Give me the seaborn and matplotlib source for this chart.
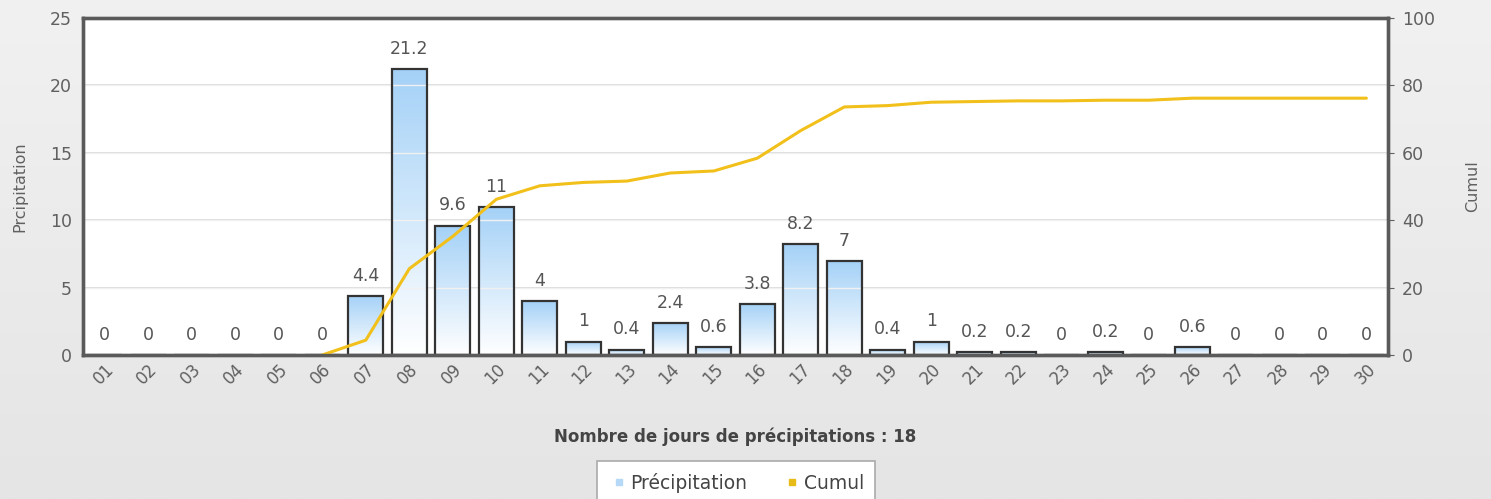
import numpy as np
import pandas as pd
import matplotlib
matplotlib.use("Agg")
import matplotlib.pyplot as plt
import seaborn as sns
from matplotlib.colors import LinearSegmentedColormap
from matplotlib.lines import Line2D

# Data
days = [f"{d:02d}" for d in range(1, 31)]
precip = [0, 0, 0, 0, 0, 0, 4.4, 21.2, 9.6, 11, 4, 1, 0.4, 2.4, 0.6, 3.8,
          8.2, 7, 0.4, 1, 0.2, 0.2, 0, 0.2, 0, 0.6, 0, 0, 0, 0]
cumul = [0, 0, 0, 0, 0, 0, 4.4, 25.6, 35.2, 46.2, 50.2, 51.2, 51.6, 54, 54.6, 58.4,
         66.6, 73.6, 74, 75, 75.2, 75.4, 75.4, 75.6, 75.6, 76.2, 76.2, 76.2, 76.2, 76.2]
rain_days = 18

df = pd.DataFrame({"jour": days, "precip": precip, "cumul": cumul})

sns.set_style("white")
plt.rcParams["font.family"] = ["DejaVu Sans"]
text_col = "#606060"

fig = plt.figure(figsize=(14.91, 4.99), dpi=100)

# grey gradient background
bg = fig.add_axes([0, 0, 1, 1], zorder=-10)
grad = np.linspace(0, 1, 256).reshape(-1, 1)
bg_cmap = LinearSegmentedColormap.from_list("bg", ["#f1f1f1", "#e5e5e5"])
bg.imshow(grad, aspect="auto", cmap=bg_cmap, extent=[0, 1, 0, 1])
bg.axis("off")

ax = fig.add_axes([0.0557, 0.2886, 0.8753, 0.6754])
ax.set_facecolor("white")

# alternating bands + grid
for lo in [5, 15]:
    ax.axhspan(lo, lo + 5, color="#f1f1f1", zorder=0.2)
for y in [5, 10, 15, 20]:
    ax.axhline(y, color="#d6d6d6", lw=1.2, zorder=0.5)

sns.barplot(data=df, x="jour", y="precip", ax=ax, width=0.8,
            color="#b5d9f7", edgecolor="#333333", linewidth=1.6, zorder=2)

# gradient fill inside the bars
bar_cmap = LinearSegmentedColormap.from_list("bar", ["#ffffff", "#a4d1f7"])
for p in ax.patches:
    h = p.get_height()
    if h <= 0:
        continue
    x0 = p.get_x()
    w = p.get_width()
    im = ax.imshow(grad, aspect="auto", cmap=bar_cmap, origin="lower",
                   extent=[x0, x0 + w, 0, h], zorder=2.1)
    im.set_clip_path(p)
    p.set_facecolor("none")
    p.set_zorder(2.2)

labels = [f"{v:g}" for v in precip]
ax.bar_label(ax.containers[0], labels=labels, padding=8, fontsize=12.5, color="#555555")

ax.set_xlim(-0.5, 29.5)
ax.set_ylim(0, 25)
ax.set_yticks([0, 5, 10, 15, 20, 25])
ax.set_xlabel("")
ax.set_ylabel("Prcipitation", color=text_col, fontsize=11.5, labelpad=16)
ax.tick_params(axis="y", colors=text_col, labelsize=12.5, length=0, pad=8)
ax.tick_params(axis="x", colors=text_col, labelsize=12, length=0, pad=4)
for lab in ax.get_xticklabels():
    lab.set_rotation(45)
    lab.set_ha("right")
    lab.set_rotation_mode("anchor")

# cumulative line on right axis
ax2 = ax.twinx()
line_df = df.iloc[5:]
sns.lineplot(x=line_df.index, y=line_df["cumul"], ax=ax2, color="#f2c01a", linewidth=2.2)
ax2.set_ylim(0, 100)
ax2.set_yticks([0, 20, 40, 60, 80, 100])
ax2.set_ylabel("Cumul", color=text_col, fontsize=11.5, labelpad=22)
ax2.tick_params(axis="y", colors=text_col, labelsize=12.5, length=4, pad=6)
ax.set_xlim(-0.5, 29.5)

for a in (ax, ax2):
    for s in a.spines.values():
        s.set_color("#5a5a5a")
        s.set_linewidth(2.4)

fig.text(0.493, 0.124, f"Nombre de jours de précipitations : {rain_days}",
         ha="center", va="center", fontsize=12, fontweight="bold", color="#444444")

handles = [
    Line2D([], [], marker="s", ls="none", color="#b5d9f7", markersize=5, label="Précipitation"),
    Line2D([], [], marker="s", ls="none", color="#e8bc18", markersize=5, label="Cumul"),
]
leg = fig.legend(handles=handles, loc="upper center", bbox_to_anchor=(0.4935, 0.094),
                 ncol=2, frameon=True, fancybox=False, fontsize=13.5, handletextpad=0.0,
                 handlelength=1.2, columnspacing=1.8, borderpad=0.6, labelcolor="#444444")
leg.get_frame().set_edgecolor("#aaaaaa")
leg.get_frame().set_linewidth(1.2)
leg.get_frame().set_facecolor("white")
leg.get_frame().set_alpha(1)

fig.savefig("out.png", dpi=100)
